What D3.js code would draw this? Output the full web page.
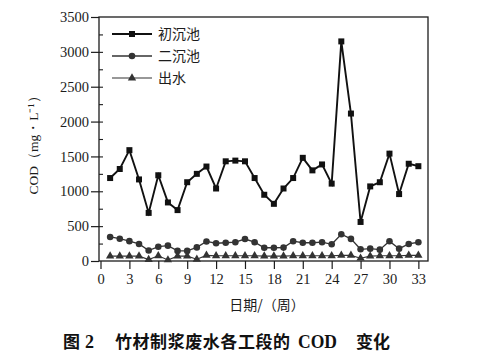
<!DOCTYPE html>
<html><head><meta charset="utf-8">
<script src="https://cdn.jsdelivr.net/npm/d3@7"></script>
<style>
html,body{margin:0;padding:0;background:#fff;}
svg{display:block;}
</style></head>
<body>
<script>
const weeks = d3.range(1, 34);
const primary = [1190,1320,1590,1170,690,1230,840,730,1130,1250,1355,1040,1430,1440,1430,1190,950,820,1040,1190,1480,1300,1385,1110,3150,2115,560,1070,1130,1540,960,1395,1360];
const secondary = [345,320,285,245,150,205,220,145,145,195,280,255,262,270,315,270,190,190,192,284,262,262,270,240,384,317,168,177,163,284,177,245,269];
const effluent = [70,70,70,70,20,75,15,70,70,25,80,75,75,75,75,75,70,70,70,75,75,75,75,75,80,80,40,70,75,75,75,80,80];
const xTicks = [0,3,6,9,12,15,18,21,24,27,30,33];
const yTicks = [0,500,1000,1500,2000,2500,3000,3500];
const seriesNames = ["初沉池","二沉池","出水"];
const xTitle = "日期/（周）";
const yTitle = "COD（mg・L⁻¹）";

const W = 494, H = 356;
const L = 99, R = 428, T = 17, B = 261;
const svg = d3.select("body").append("svg").attr("width", W).attr("height", H);
const ink = "#1c1c1c";
const serif = "'Liberation Serif','Times New Roman',serif";
const cjk = "'Noto Sans CJK SC','Noto Sans',sans-serif";

const x = d3.scaleLinear().domain([0, 34]).range([L + 1.5, R]);
const y = d3.scaleLinear().domain([0, 3500]).range([B, T]);

// frame
svg.append("rect").attr("x", L).attr("y", T).attr("width", R - L).attr("height", B - T)
  .attr("fill", "none").attr("stroke", ink).attr("stroke-width", 1.3);

// y axis outer major ticks
const yAxis = d3.axisLeft(y).tickValues(yTicks).tickSize(8).tickPadding(2).tickFormat(d3.format("d"));
const gy = svg.append("g").attr("transform", `translate(${L},0)`).call(yAxis);
gy.select(".domain").remove();
gy.selectAll("line").attr("stroke", ink).attr("stroke-width", 1.2);
gy.selectAll("text").attr("font-family", serif).attr("font-size", 14.5).attr("fill", ink);
// inner minor ticks
const yMinor = d3.axisRight(y).tickValues(d3.range(250, 3500, 250)).tickSize(4).tickFormat("");
const gym = svg.append("g").attr("transform", `translate(${L},0)`).call(yMinor);
gym.select(".domain").remove();
gym.selectAll("line").attr("stroke", ink).attr("stroke-width", 1.1);

// x axis
const xAxis = d3.axisBottom(x).tickValues(xTicks).tickSize(8).tickPadding(5);
const gx = svg.append("g").attr("transform", `translate(0,${B})`).call(xAxis);
gx.select(".domain").remove();
gx.selectAll("line").attr("stroke", ink).attr("stroke-width", 1.2);
gx.selectAll("text").attr("font-family", serif).attr("font-size", 14.5).attr("fill", ink);

// titles
svg.append("text").attr("x", 267).attr("y", 310).attr("text-anchor", "middle")
  .attr("font-family", cjk).attr("font-size", 14).attr("fill", ink).text(xTitle);
svg.append("text").attr("transform", "translate(38,142) rotate(-90)").attr("text-anchor", "middle")
  .attr("font-family", serif).attr("font-size", 13.5).attr("fill", ink).text(yTitle);

// series
const line = d3.line().x((d, i) => x(weeks[i])).y(d => y(d));
const sets = [
  {data: primary, sw: 1.9, color: "#111", marker: "square"},
  {data: secondary, sw: 1.3, color: "#333", marker: "circle"},
  {data: effluent, sw: 1.1, color: "#333", marker: "triangle"}
];
const sym = {square: d3.symbolSquare, circle: d3.symbolCircle, triangle: d3.symbolTriangle};
const symSize = {square: 36, circle: 34, triangle: 30};
sets.forEach(s => {
  svg.append("path").attr("d", line(s.data)).attr("fill", "none")
    .attr("stroke", s.color).attr("stroke-width", s.sw);
  svg.append("g").selectAll("path").data(s.data).join("path")
    .attr("transform", (d, i) => `translate(${x(weeks[i])},${y(d)})`)
    .attr("d", d3.symbol().type(sym[s.marker]).size(symSize[s.marker]))
    .attr("fill", s.color);
});

// legend
const legY = [34, 56, 78];
sets.forEach((s, i) => {
  const g = svg.append("g");
  g.append("line").attr("x1", 112).attr("x2", 152).attr("y1", legY[i]).attr("y2", legY[i])
    .attr("stroke", s.color).attr("stroke-width", s.sw);
  g.append("path").attr("transform", `translate(132,${legY[i]})`)
    .attr("d", d3.symbol().type(sym[s.marker]).size(symSize[s.marker])).attr("fill", s.color);
  g.append("text").attr("x", 158).attr("y", legY[i] + 5).attr("font-family", cjk)
    .attr("font-size", 14).attr("fill", ink).text(seriesNames[i]);
});

// caption
const cap = svg.append("g").attr("font-weight", "bold").attr("fill", "#111");
const capY = 348;
cap.append("text").attr("x", 63).attr("y", capY).attr("font-family", cjk).attr("font-size", 17).text("图");
cap.append("text").attr("x", 85).attr("y", capY).attr("font-family", serif).attr("font-size", 18).text("2");
cap.append("text").attr("x", 115).attr("y", capY).attr("font-family", cjk).attr("font-size", 17)
  .attr("textLength", 175).attr("lengthAdjust", "spacing").text("竹材制浆废水各工段的");
cap.append("text").attr("x", 298).attr("y", capY).attr("font-family", serif).attr("font-size", 18)
  .attr("textLength", 39).attr("lengthAdjust", "spacingAndGlyphs").text("COD");
cap.append("text").attr("x", 356).attr("y", capY).attr("font-family", cjk).attr("font-size", 17).text("变化");
</script>
</body></html>
